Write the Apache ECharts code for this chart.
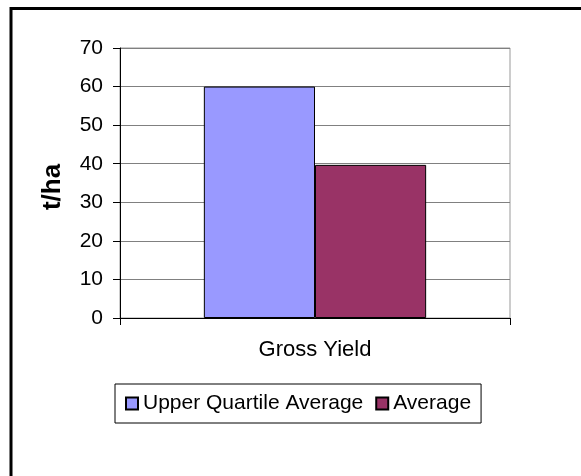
<!DOCTYPE html>
<html>
<head>
<meta charset="utf-8">
<script src="https://cdn.jsdelivr.net/npm/echarts@6/dist/echarts.min.js"></script>
<style>
  html, body { margin: 0; padding: 0; background: #fff; overflow: hidden; }
  #chart { width: 581px; height: 476px; }
</style>
</head>
<body>
<div id="chart"></div>
<script>
// data
const categories = ['Gross Yield'];
const upperQuartile = [60];
const average = [39.7];
const seriesNames = ['Upper Quartile Average', 'Average'];
const yTicks = { min: 0, max: 70, step: 10 };

const font = "'Liberation Sans', Arial, sans-serif";

var myChart = echarts.init(document.getElementById('chart'));
myChart.setOption({
    backgroundColor: '#fff',
    animation: false,
    textStyle: { fontFamily: font, color: '#000' },
    graphic: [{
        // outer chart frame (right / bottom edges fall outside the picture)
        type: 'rect',
        shape: { x: 11, y: 8.5, width: 900, height: 800 },
        style: { fill: 'none', stroke: '#000', lineWidth: 3 },
        silent: true
    }],
    grid: {
        left: 120, right: 71, top: 48, bottom: 158,
        show: true, borderColor: '#999', borderWidth: 1
    },
    legend: {
        data: seriesNames,
        left: 115, top: 384,
        padding: [9, 10],
        itemWidth: 12, itemHeight: 12, itemGap: 12,
        borderColor: '#000', borderWidth: 1,
        textStyle: { fontSize: 21, fontFamily: font, color: '#000' },
        icon: 'rect'
    },
    xAxis: {
        type: 'category',
        data: categories,
        axisLine: { lineStyle: { color: '#000', width: 1 } },
        axisTick: { show: true, length: 7, lineStyle: { color: '#000' } },
        axisLabel: { fontSize: 22, color: '#000', margin: 21, fontFamily: font }
    },
    yAxis: {
        type: 'value',
        min: yTicks.min, max: yTicks.max, interval: yTicks.step,
        name: 't/ha',
        nameLocation: 'middle',
        nameGap: 54,
        nameRotate: 90,
        nameTextStyle: {
            fontSize: 26, fontWeight: 'bold', color: '#000', fontFamily: font,
            padding: [0, 8, 0, 0]
        },
        axisLine: { show: true, lineStyle: { color: '#000', width: 1 } },
        axisTick: { show: true, length: 7, lineStyle: { color: '#000' } },
        axisLabel: { fontSize: 21, color: '#000', margin: 17, fontFamily: font },
        splitLine: { lineStyle: { color: '#808080', width: 1 } }
    },
    series: [{
        name: seriesNames[0],
        type: 'bar',
        data: upperQuartile,
        barGap: '0%',
        barCategoryGap: '43%',
        itemStyle: { color: '#9999FF', borderColor: '#000', borderWidth: 1 }
    }, {
        name: seriesNames[1],
        type: 'bar',
        data: average,
        itemStyle: { color: '#993366', borderColor: '#000', borderWidth: 1 }
    }]
});
</script>
</body>
</html>
